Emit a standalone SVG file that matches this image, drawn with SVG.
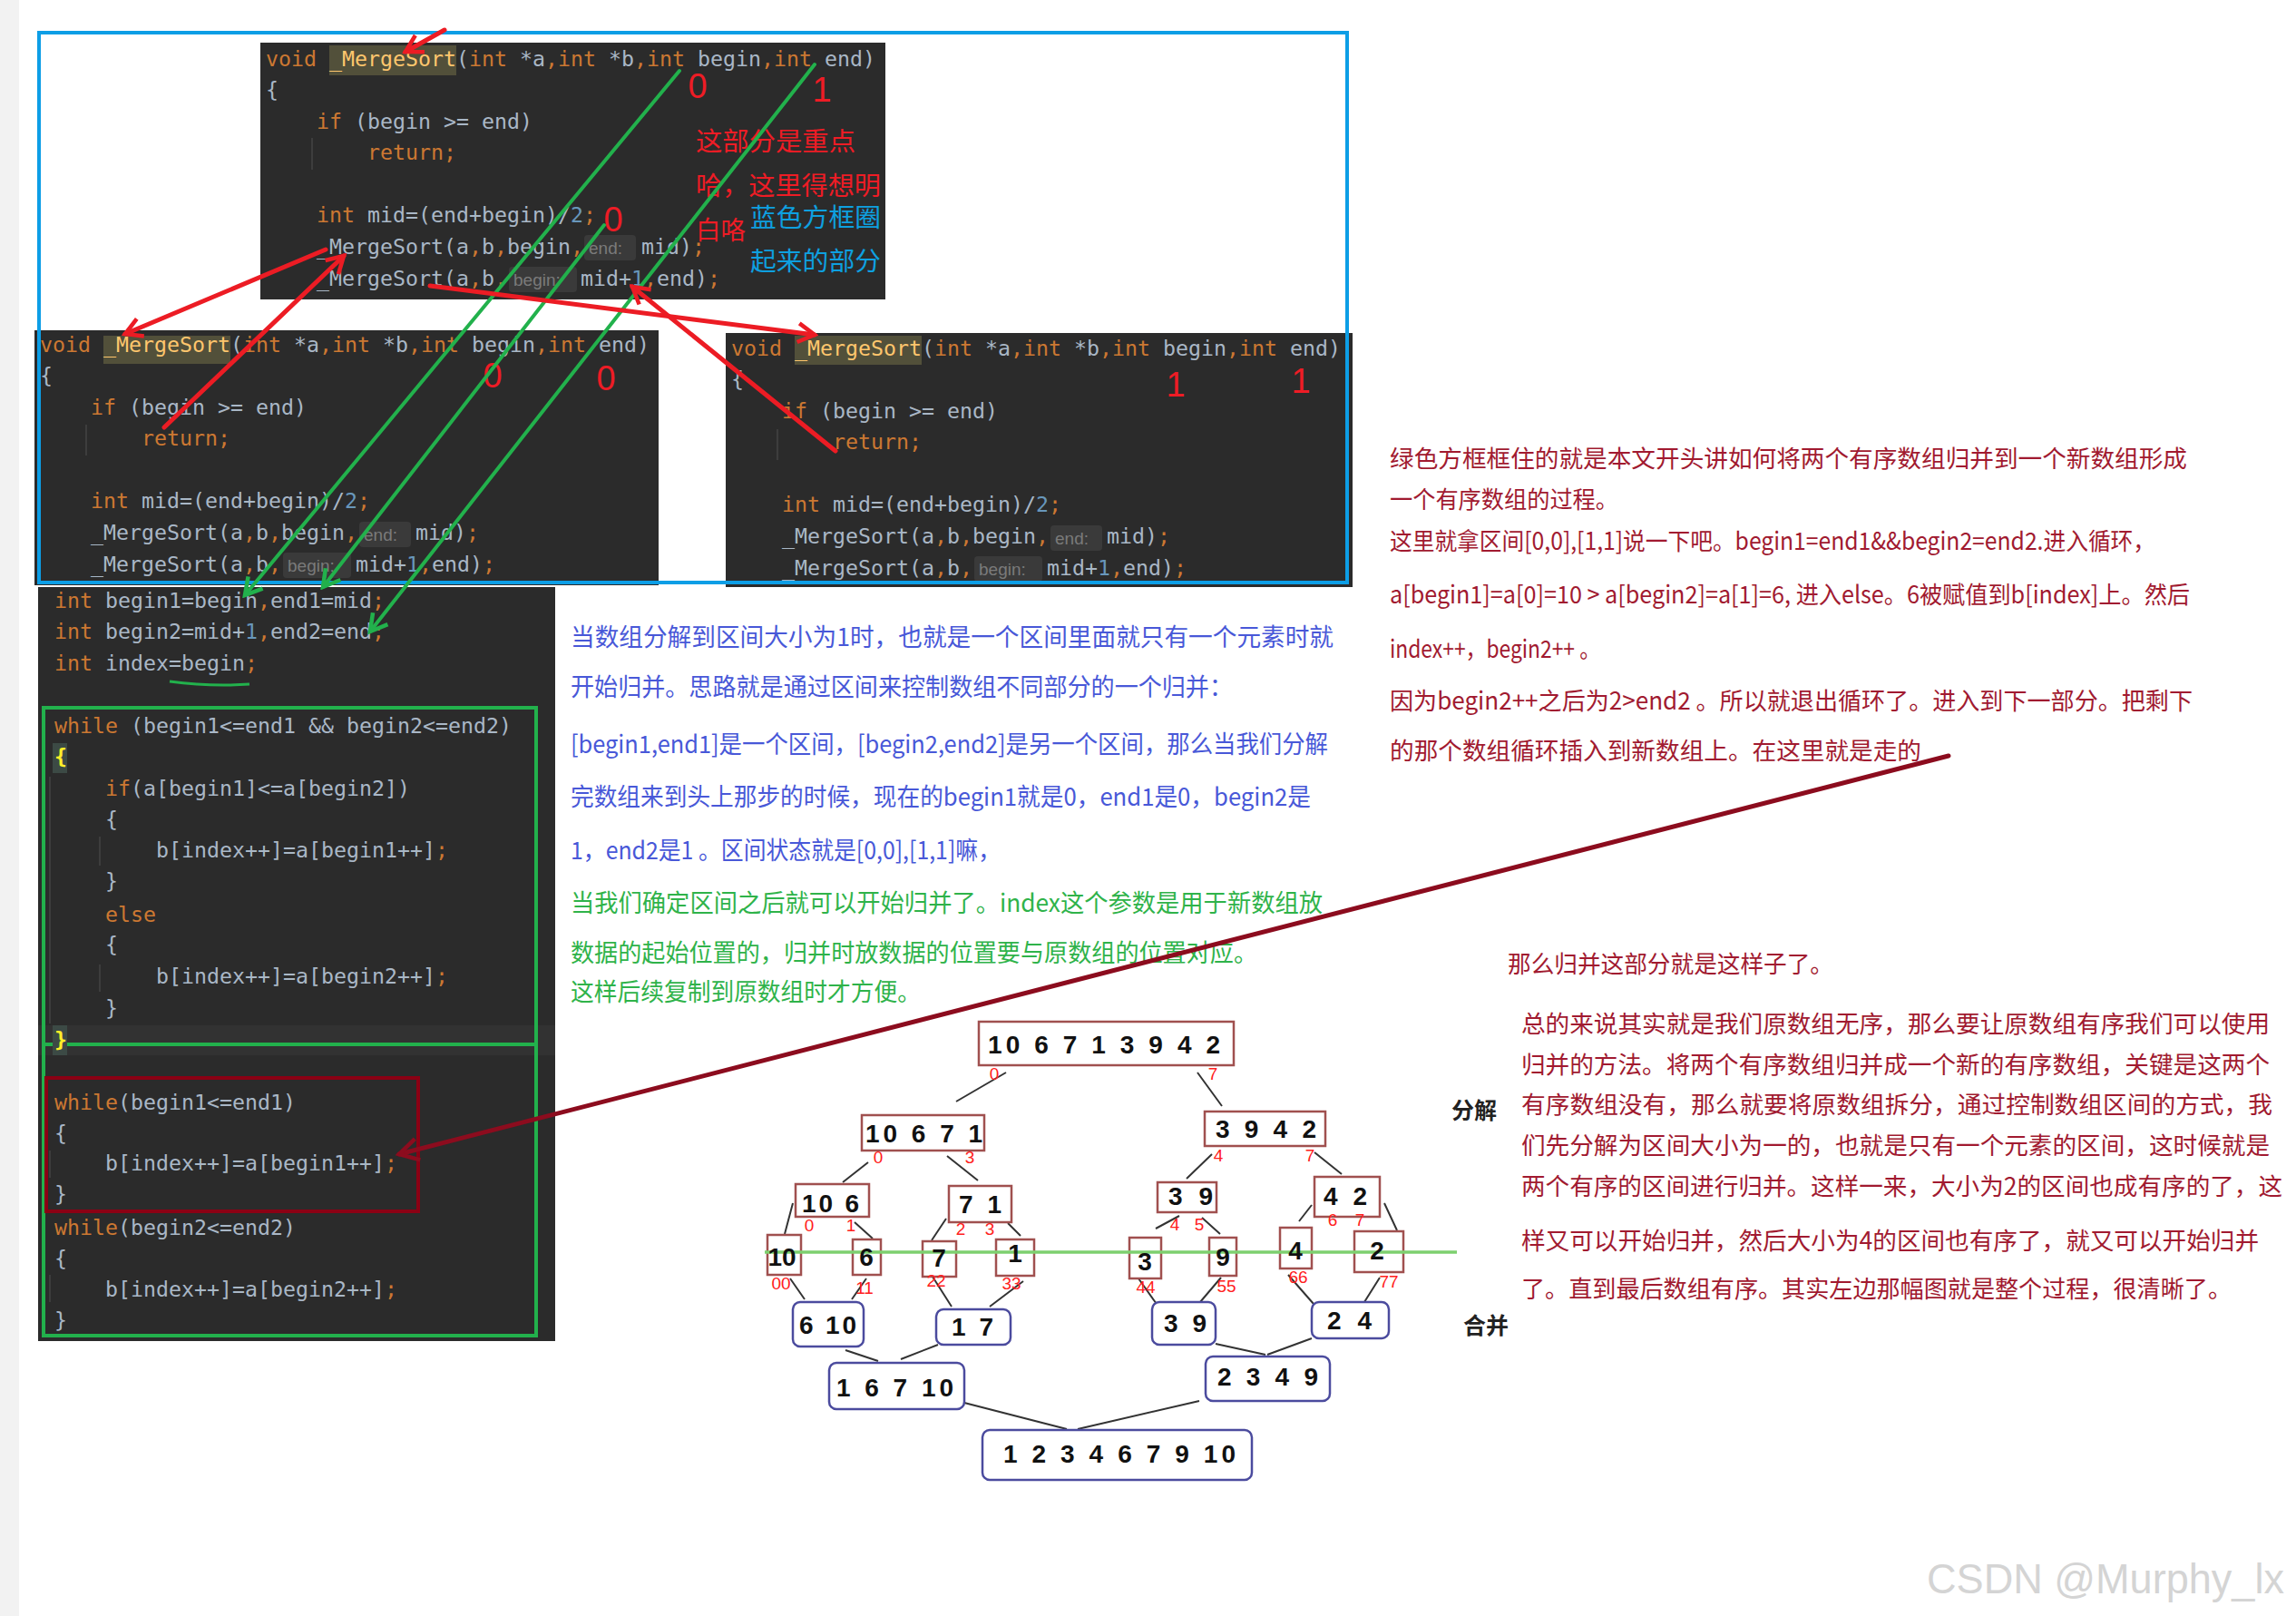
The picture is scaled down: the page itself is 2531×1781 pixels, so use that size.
<svg xmlns="http://www.w3.org/2000/svg" width="2531" height="1781" viewBox="0 0 2531 1781">
<style>
.c{font-family:"DejaVu Sans Mono","Liberation Mono",monospace;font-size:23.25px;fill:#a9b7c6;white-space:pre}
.k{fill:#cc7832}.n{fill:#6897bb}.f{fill:#ffc66d}.y{fill:#ffef28;font-weight:bold}
.bg{fill:#2b2b2b}.hl{fill:#52503a}.hb{fill:#3a3a3a}
.ht{font-family:"Liberation Sans",sans-serif;font-size:19px;fill:#7a7a7a}
.gd{stroke:#444;stroke-width:1.5}
.cn{font-family:"Noto Sans CJK SC","Liberation Sans",sans-serif;white-space:pre}
.rd{fill:#ee1c25}.bl{fill:#0ea0e0}.bu{fill:#4858d8}.gr{fill:#2fb34a}.dr{fill:#a11a30}
.dg{font-family:"Liberation Sans",sans-serif;font-size:38px;fill:#ee1c25;text-anchor:middle}
.tb{fill:#fff;stroke:#a0504f;stroke-width:2.5}
.mb{fill:#fff;stroke:#4b4b9e;stroke-width:2.5}
.tt{font-family:"Liberation Sans",sans-serif;font-weight:bold;font-size:28px;fill:#111}
.tc{text-anchor:middle}
.ix{font-family:"Liberation Sans",sans-serif;font-size:19px;fill:#ff2020;text-anchor:middle}
.tl{stroke:#333;stroke-width:2;fill:none}
.ar{fill:none;stroke:#ec1c24;stroke-width:5;stroke-linecap:round}
.ag{fill:none;stroke:#22b14c;stroke-width:4;stroke-linecap:round}
.ad{fill:none;stroke:#8c0c1e;stroke-width:5;stroke-linecap:round}
</style>
<defs>
<marker id="mr" viewBox="0 0 20 20" refX="17" refY="10" markerWidth="26" markerHeight="26" markerUnits="userSpaceOnUse" orient="auto"><path d="M3,2 L17,10 L3,18" fill="none" stroke="#ec1c24" stroke-width="3.5"/></marker>
<marker id="mg" viewBox="0 0 20 20" refX="17" refY="10" markerWidth="26" markerHeight="26" markerUnits="userSpaceOnUse" orient="auto"><path d="M3,2 L17,10 L3,18" fill="none" stroke="#22b14c" stroke-width="3.5"/></marker>
<marker id="md" viewBox="0 0 20 20" refX="17" refY="10" markerWidth="30" markerHeight="30" markerUnits="userSpaceOnUse" orient="auto"><path d="M3,2 L17,10 L3,18" fill="none" stroke="#8c0c1e" stroke-width="3"/></marker>
</defs>
<rect width="2531" height="1781" fill="#fff"/>
<rect x="0" y="0" width="21" height="1781" fill="#f2f2f2"/>

<g id="code-top">
<rect class="bg" x="287" y="47" width="689" height="283"/>
<rect class="hl" x="363" y="50" width="140" height="33"/>
<line class="gd" x1="344" y1="152" x2="344" y2="187"/>
<text class="c" x="293" y="73"><tspan class="k">void</tspan> <tspan class="f">_MergeSort</tspan>(<tspan class="k">int</tspan> *a<tspan class="k">,int</tspan> *b<tspan class="k">,int</tspan> begin<tspan class="k">,int</tspan> end)</text>
<text class="c" x="293" y="107">{</text>
<text class="c" x="349" y="142"><tspan class="k">if</tspan> (begin &gt;= end)</text>
<text class="c k" x="405" y="176">return;</text>
<text class="c" x="349" y="245"><tspan class="k">int</tspan> mid=(end+begin)/<tspan class="n">2</tspan><tspan class="k">;</tspan></text>
<rect class="hb" x="644" y="259" width="57" height="28" rx="4"/><text class="ht" x="649" y="280">end:</text>
<text class="c" x="349" y="280">_MergeSort(a<tspan class="k">,</tspan>b<tspan class="k">,</tspan>begin<tspan class="k">,</tspan><tspan x="707">mid)</tspan><tspan class="k">;</tspan></text>
<rect class="hb" x="561" y="294" width="75" height="28" rx="4"/><text class="ht" x="566" y="315">begin:</text>
<text class="c" x="349" y="315">_MergeSort(a<tspan class="k">,</tspan>b<tspan class="k">,</tspan><tspan x="640">mid+</tspan><tspan class="n">1</tspan><tspan class="k">,</tspan>end)<tspan class="k">;</tspan></text>
</g>

<g id="code-left">
<rect class="bg" x="38" y="364" width="688" height="281"/>
<rect class="hl" x="114" y="370" width="140" height="31"/>
<line class="gd" x1="95" y1="468" x2="95" y2="502"/>
<text class="c" x="44" y="388"><tspan class="k">void</tspan> <tspan class="f">_MergeSort</tspan>(<tspan class="k">int</tspan> *a<tspan class="k">,int</tspan> *b<tspan class="k">,int</tspan> begin<tspan class="k">,int</tspan> end)</text>
<text class="c" x="44" y="422">{</text>
<text class="c" x="100" y="457"><tspan class="k">if</tspan> (begin &gt;= end)</text>
<text class="c k" x="156" y="491">return;</text>
<text class="c" x="100" y="560"><tspan class="k">int</tspan> mid=(end+begin)/<tspan class="n">2</tspan><tspan class="k">;</tspan></text>
<rect class="hb" x="396" y="575" width="57" height="28" rx="4"/><text class="ht" x="401" y="596">end:</text>
<text class="c" x="100" y="595">_MergeSort(a<tspan class="k">,</tspan>b<tspan class="k">,</tspan>begin<tspan class="k">,</tspan><tspan x="458">mid)</tspan><tspan class="k">;</tspan></text>
<rect class="hb" x="312" y="609" width="75" height="28" rx="4"/><text class="ht" x="317" y="630">begin:</text>
<text class="c" x="100" y="630">_MergeSort(a<tspan class="k">,</tspan>b<tspan class="k">,</tspan><tspan x="392">mid+</tspan><tspan class="n">1</tspan><tspan class="k">,</tspan>end)<tspan class="k">;</tspan></text>
</g>

<g id="code-right">
<rect class="bg" x="800" y="367" width="691" height="280"/>
<rect class="hl" x="876" y="370" width="140" height="32"/>
<line class="gd" x1="857" y1="473" x2="857" y2="507"/>
<text class="c" x="806" y="392"><tspan class="k">void</tspan> <tspan class="f">_MergeSort</tspan>(<tspan class="k">int</tspan> *a<tspan class="k">,int</tspan> *b<tspan class="k">,int</tspan> begin<tspan class="k">,int</tspan> end)</text>
<text class="c" x="806" y="426">{</text>
<text class="c" x="862" y="461"><tspan class="k">if</tspan> (begin &gt;= end)</text>
<text class="c k" x="918" y="495">return;</text>
<text class="c" x="862" y="564"><tspan class="k">int</tspan> mid=(end+begin)/<tspan class="n">2</tspan><tspan class="k">;</tspan></text>
<rect class="hb" x="1158" y="579" width="57" height="28" rx="4"/><text class="ht" x="1163" y="600">end:</text>
<text class="c" x="862" y="599">_MergeSort(a<tspan class="k">,</tspan>b<tspan class="k">,</tspan>begin<tspan class="k">,</tspan><tspan x="1220">mid)</tspan><tspan class="k">;</tspan></text>
<rect class="hb" x="1074" y="613" width="75" height="28" rx="4"/><text class="ht" x="1079" y="634">begin:</text>
<text class="c" x="862" y="634">_MergeSort(a<tspan class="k">,</tspan>b<tspan class="k">,</tspan><tspan x="1154">mid+</tspan><tspan class="n">1</tspan><tspan class="k">,</tspan>end)<tspan class="k">;</tspan></text>
</g>

<g id="code-merge">
<rect class="bg" x="42" y="647" width="570" height="831"/>
<rect x="42" y="1130" width="570" height="33" fill="#323232"/>
<text class="c" x="60" y="670"><tspan class="k">int</tspan> begin1=begin<tspan class="k">,</tspan>end1=mid<tspan class="k">;</tspan></text>
<text class="c" x="60" y="704"><tspan class="k">int</tspan> begin2=mid+<tspan class="n">1</tspan><tspan class="k">,</tspan>end2=end<tspan class="k">;</tspan></text>
<text class="c" x="60" y="739"><tspan class="k">int</tspan> index=begin<tspan class="k">;</tspan></text>
<path d="M187,751 Q232,757 275,754" fill="none" stroke="#22b14c" stroke-width="3"/>
<rect x="48" y="780" width="543" height="371" fill="none" stroke="#22b14c" stroke-width="4"/>
<rect x="48" y="1151" width="543" height="321" fill="none" stroke="#22b14c" stroke-width="4"/>
<line class="gd" x1="55" y1="856" x2="55" y2="1128"/>
<line class="gd" x1="110" y1="922" x2="110" y2="954"/>
<line class="gd" x1="110" y1="1063" x2="110" y2="1093"/>
<line class="gd" x1="55" y1="1268" x2="55" y2="1298"/>
<line class="gd" x1="55" y1="1405" x2="55" y2="1435"/>
<text class="c" x="60" y="808"><tspan class="k">while</tspan> (begin1&lt;=end1 &amp;&amp; begin2&lt;=end2)</text>
<rect x="58" y="819" width="16" height="33" fill="#3c4a45"/>
<text class="c y" x="60" y="842">{</text>
<text class="c" x="116" y="877"><tspan class="k">if</tspan>(a[begin1]&lt;=a[begin2])</text>
<text class="c" x="116" y="911">{</text>
<text class="c" x="172" y="945">b[index++]=a[begin1++]<tspan class="k">;</tspan></text>
<text class="c" x="116" y="979">}</text>
<text class="c k" x="116" y="1016">else</text>
<text class="c" x="116" y="1049">{</text>
<text class="c" x="172" y="1084">b[index++]=a[begin2++]<tspan class="k">;</tspan></text>
<text class="c" x="116" y="1119">}</text>
<rect x="58" y="1130" width="16" height="33" fill="#3c4a45"/>
<text class="c y" x="60" y="1154">}</text>
<rect x="51" y="1188" width="410" height="147" fill="none" stroke="#8b0014" stroke-width="4"/>
<text class="c" x="60" y="1223"><tspan class="k">while</tspan>(begin1&lt;=end1)</text>
<text class="c" x="60" y="1257">{</text>
<text class="c" x="116" y="1290">b[index++]=a[begin1++]<tspan class="k">;</tspan></text>
<text class="c" x="60" y="1324">}</text>
<text class="c" x="60" y="1361"><tspan class="k">while</tspan>(begin2&lt;=end2)</text>
<text class="c" x="60" y="1395">{</text>
<text class="c" x="116" y="1429">b[index++]=a[begin2++]<tspan class="k">;</tspan></text>
<text class="c" x="60" y="1463">}</text>
</g>

<g id="blue-frame">
<rect x="43" y="36" width="1442" height="606" fill="none" stroke="#0d9ee6" stroke-width="4"/>
</g>

<g id="annot-top">
<text class="dg" x="769" y="108">0</text>
<text class="dg" x="906" y="112">1</text>
<text class="dg" x="676" y="255">0</text>
<text class="dg" x="543" y="427">0</text>
<text class="dg" x="668" y="430">0</text>
<text class="dg" x="1296" y="437">1</text>
<text class="dg" x="1434" y="433">1</text>
<text class="cn rd" x="767" y="166" font-size="28" textLength="176" lengthAdjust="spacingAndGlyphs">这部分是重点</text>
<text class="cn rd" x="767" y="215" font-size="28" textLength="204" lengthAdjust="spacingAndGlyphs">哈，这里得想明</text>
<text class="cn rd" x="767" y="264" font-size="28" textLength="55" lengthAdjust="spacingAndGlyphs">白咯</text>
<text class="cn bl" x="827" y="250" font-size="28" textLength="144" lengthAdjust="spacingAndGlyphs">蓝色方框圈</text>
<text class="cn bl" x="827" y="298" font-size="28" textLength="144" lengthAdjust="spacingAndGlyphs">起来的部分</text>
</g>

<g id="text-middle" font-size="27">
<text class="cn bu" x="629" y="712" textLength="841" lengthAdjust="spacingAndGlyphs">当数组分解到区间大小为1时，也就是一个区间里面就只有一个元素时就</text>
<text class="cn bu" x="629" y="767" textLength="730" lengthAdjust="spacingAndGlyphs">开始归并。思路就是通过区间来控制数组不同部分的一个归并：</text>
<text class="cn bu" x="629" y="830" textLength="835" lengthAdjust="spacingAndGlyphs">[begin1,end1]是一个区间，[begin2,end2]是另一个区间，那么当我们分解</text>
<text class="cn bu" x="629" y="888" textLength="816" lengthAdjust="spacingAndGlyphs">完数组来到头上那步的时候，现在的begin1就是0，end1是0，begin2是</text>
<text class="cn bu" x="629" y="947" textLength="474" lengthAdjust="spacingAndGlyphs">1，end2是1 。区间状态就是[0,0],[1,1]嘛，</text>
<text class="cn gr" x="629" y="1005" textLength="829" lengthAdjust="spacingAndGlyphs">当我们确定区间之后就可以开始归并了。index这个参数是用于新数组放</text>
<text class="cn gr" x="629" y="1060" textLength="757" lengthAdjust="spacingAndGlyphs">数据的起始位置的，归并时放数据的位置要与原数组的位置对应。</text>
<text class="cn gr" x="629" y="1103" textLength="386" lengthAdjust="spacingAndGlyphs">这样后续复制到原数组时才方便。</text>
</g>

<g id="text-right" font-size="26.5">
<text class="cn dr" x="1532" y="515" textLength="879" lengthAdjust="spacingAndGlyphs">绿色方框框住的就是本文开头讲如何将两个有序数组归并到一个新数组形成</text>
<text class="cn dr" x="1532" y="560" textLength="252" lengthAdjust="spacingAndGlyphs">一个有序数组的过程。</text>
<text class="cn dr" x="1532" y="606" textLength="844" lengthAdjust="spacingAndGlyphs">这里就拿区间[0,0],[1,1]说一下吧。begin1=end1&amp;&amp;begin2=end2.进入循环，</text>
<text class="cn dr" x="1532" y="665" textLength="882" lengthAdjust="spacingAndGlyphs">a[begin1]=a[0]=10 &gt; a[begin2]=a[1]=6, 进入else。6被赋值到b[index]上。然后</text>
<text class="cn dr" x="1532" y="725" textLength="232" lengthAdjust="spacingAndGlyphs">index++，begin2++ 。</text>
<text class="cn dr" x="1532" y="782" textLength="885" lengthAdjust="spacingAndGlyphs">因为begin2++之后为2&gt;end2 。所以就退出循环了。进入到下一部分。把剩下</text>
<text class="cn dr" x="1532" y="837" textLength="586" lengthAdjust="spacingAndGlyphs">的那个数组循环插入到新数组上。在这里就是走的</text>
</g>

<g id="text-bottom-right" font-size="26.5">
<text class="cn dr" x="1662" y="1072" textLength="359" lengthAdjust="spacingAndGlyphs">那么归并这部分就是这样子了。</text>
<text class="cn dr" x="1677" y="1138" textLength="825" lengthAdjust="spacingAndGlyphs">总的来说其实就是我们原数组无序，那么要让原数组有序我们可以使用</text>
<text class="cn dr" x="1677" y="1183" textLength="825" lengthAdjust="spacingAndGlyphs">归并的方法。将两个有序数组归并成一个新的有序数组，关键是这两个</text>
<text class="cn dr" x="1677" y="1227" textLength="828" lengthAdjust="spacingAndGlyphs">有序数组没有，那么就要将原数组拆分，通过控制数组区间的方式，我</text>
<text class="cn dr" x="1677" y="1272" textLength="825" lengthAdjust="spacingAndGlyphs">们先分解为区间大小为一的，也就是只有一个元素的区间，这时候就是</text>
<text class="cn dr" x="1677" y="1317" textLength="839" lengthAdjust="spacingAndGlyphs">两个有序的区间进行归并。这样一来，大小为2的区间也成有序的了，这</text>
<text class="cn dr" x="1677" y="1377" textLength="813" lengthAdjust="spacingAndGlyphs">样又可以开始归并，然后大小为4的区间也有序了，就又可以开始归并</text>
<text class="cn dr" x="1677" y="1430" textLength="783" lengthAdjust="spacingAndGlyphs">了。直到最后数组有序。其实左边那幅图就是整个过程，很清晰了。</text>
</g>

<g id="labels">
<text class="cn" x="1600" y="1233" font-size="25" font-weight="bold" fill="#222">分解</text>
<text class="cn" x="1613" y="1470" font-size="25" font-weight="bold" fill="#222">合并</text>
</g>

<g id="tree-connectors">
<path class="tl" d="M1109,1182L1054,1214M1320,1182L1347,1219M957,1281L929,1303M1044,1274L1078,1301M1336,1272L1308,1299M1449,1270L1479,1294M874,1326L865,1360M942,1347L962,1365M1043,1343L1027,1367M1111,1348L1125,1362M1300,1340L1274,1354M1325,1342L1345,1360M1446,1328L1432,1346M1526,1326L1540,1356M871,1409L887,1432M955,1409L939,1432M1028,1407L1049,1440M1128,1412L1091,1440M1255,1409L1277,1440M1346,1408L1323,1435M1420,1405L1448,1437M1521,1408L1504,1435M932,1488L968,1500M1034,1482L993,1498M1340,1481L1395,1493M1446,1475L1397,1493M1063,1546L1176,1575M1322,1544L1188,1575"/>
</g>

<g id="tree">
<g id="t0"><rect class="tb" x="1079" y="1126" width="281" height="48"/><text class="tt" x="1089" y="1161" textLength="256" lengthAdjust="spacing">10 6 7 1 3 9 4 2</text></g>
<g id="t1"><rect class="tb" x="950" y="1229" width="135" height="39"/><text class="tt" x="954" y="1259" textLength="129" lengthAdjust="spacing">10 6 7 1</text></g>
<g id="t2"><rect class="tb" x="1328" y="1225" width="133" height="38"/><text class="tt" x="1340" y="1254" textLength="111" lengthAdjust="spacing">3 9 4 2</text></g>
<g id="t3"><rect class="tb" x="877" y="1305" width="81" height="36"/><text class="tt" x="884" y="1336" textLength="63" lengthAdjust="spacing">10 6</text></g>
<g id="t4"><rect class="tb" x="1046" y="1307" width="69" height="40"/><text class="tt" x="1057" y="1337" textLength="47" lengthAdjust="spacing">7 1</text></g>
<g id="t5"><rect class="tb" x="1276" y="1303" width="65" height="33"/><text class="tt" x="1288" y="1328" textLength="49" lengthAdjust="spacing">3 9</text></g>
<g id="t6"><rect class="tb" x="1449" y="1297" width="72" height="44"/><text class="tt" x="1459" y="1328" textLength="48" lengthAdjust="spacing">4 2</text></g>
<g id="leaves">
<rect class="tb" x="846" y="1361" width="37" height="44"/>
<rect class="tb" x="940" y="1366" width="31" height="39"/>
<rect class="tb" x="1017" y="1368" width="37" height="39"/>
<rect class="tb" x="1098" y="1366" width="42" height="40"/>
<rect class="tb" x="1245" y="1364" width="35" height="45"/>
<rect class="tb" x="1333" y="1364" width="30" height="42"/>
<rect class="tb" x="1411" y="1353" width="35" height="45"/>
<rect class="tb" x="1493" y="1357" width="54" height="45"/>
<line x1="843" y1="1380" x2="1606" y2="1380" stroke="#7dd06f" stroke-width="3.5"/>
<text class="tt tc" x="862" y="1395">10</text>
<text class="tt tc" x="955" y="1395">6</text>
<text class="tt tc" x="1035" y="1396">7</text>
<text class="tt tc" x="1119" y="1391">1</text>
<text class="tt tc" x="1262" y="1400">3</text>
<text class="tt tc" x="1348" y="1395">9</text>
<text class="tt tc" x="1428" y="1388">4</text>
<text class="tt tc" x="1518" y="1388">2</text>
</g>
<g id="m0"><rect class="mb" x="874" y="1435" width="78" height="49" rx="8"/><text class="tt" x="881" y="1470" textLength="63" lengthAdjust="spacing">6 10</text></g>
<g id="m1"><rect class="mb" x="1032" y="1443" width="82" height="39" rx="8"/><text class="tt" x="1049" y="1472" textLength="46" lengthAdjust="spacing">1 7</text></g>
<g id="m2"><rect class="mb" x="1270" y="1435" width="70" height="47" rx="8"/><text class="tt" x="1283" y="1468" textLength="47" lengthAdjust="spacing">3 9</text></g>
<g id="m3"><rect class="mb" x="1446" y="1435" width="85" height="40" rx="8"/><text class="tt" x="1463" y="1465" textLength="49" lengthAdjust="spacing">2 4</text></g>
<g id="m4"><rect class="mb" x="914" y="1502" width="149" height="51" rx="8"/><text class="tt" x="922" y="1539" textLength="129" lengthAdjust="spacing">1 6 7 10</text></g>
<g id="m5"><rect class="mb" x="1329" y="1495" width="137" height="49" rx="8"/><text class="tt" x="1342" y="1527" textLength="111" lengthAdjust="spacing">2 3 4 9</text></g>
<g id="m6"><rect class="mb" x="1083" y="1576" width="297" height="55" rx="8"/><text class="tt" x="1106" y="1612" textLength="256" lengthAdjust="spacing">1 2 3 4 6 7 9 10</text></g>
<g id="indices">
<text class="ix" x="1096" y="1190">0</text><text class="ix" x="1337" y="1190">7</text>
<text class="ix" x="968" y="1282">0</text><text class="ix" x="1069" y="1282">3</text>
<text class="ix" x="1343" y="1280">4</text><text class="ix" x="1444" y="1280">7</text>
<text class="ix" x="892" y="1357">0</text><text class="ix" x="938" y="1357">1</text>
<text class="ix" x="1059" y="1361">2</text><text class="ix" x="1091" y="1361">3</text>
<text class="ix" x="1295" y="1356">4</text><text class="ix" x="1322" y="1356">5</text>
<text class="ix" x="1469" y="1351">6</text><text class="ix" x="1499" y="1351">7</text>
<text class="ix" x="861" y="1421">00</text><text class="ix" x="953" y="1426">11</text>
<text class="ix" x="1032" y="1418">22</text><text class="ix" x="1115" y="1421">33</text>
<text class="ix" x="1263" y="1425">44</text><text class="ix" x="1352" y="1424">55</text>
<text class="ix" x="1431" y="1414">66</text><text class="ix" x="1531" y="1419">77</text>
</g>
</g>

<g id="connectors">
<path class="ag" d="M749,78 L270,656" marker-end="url(#mg)"/>
<path class="ag" d="M666,248 L356,647" marker-end="url(#mg)"/>
<path class="ag" d="M898,71 L408,696" marker-end="url(#mg)"/>
<path class="ar" d="M490,33 L447,57" marker-end="url(#mr)"/>
<path class="ar" d="M359,275 L138,368" marker-end="url(#mr)"/>
<path class="ar" d="M181,471 L379,282" marker-end="url(#mr)"/>
<path class="ar" d="M474,315 L898,369" marker-end="url(#mr)"/>
<path class="ar" d="M921,497 L697,316" marker-end="url(#mr)"/>
<path class="ad" d="M2148,833 L440,1272" marker-end="url(#md)"/>
</g>

<text x="2124" y="1756" font-family="Liberation Sans, sans-serif" font-size="46" fill="#d4d4d4" textLength="394" lengthAdjust="spacingAndGlyphs">CSDN @Murphy_lx</text>
</svg>
